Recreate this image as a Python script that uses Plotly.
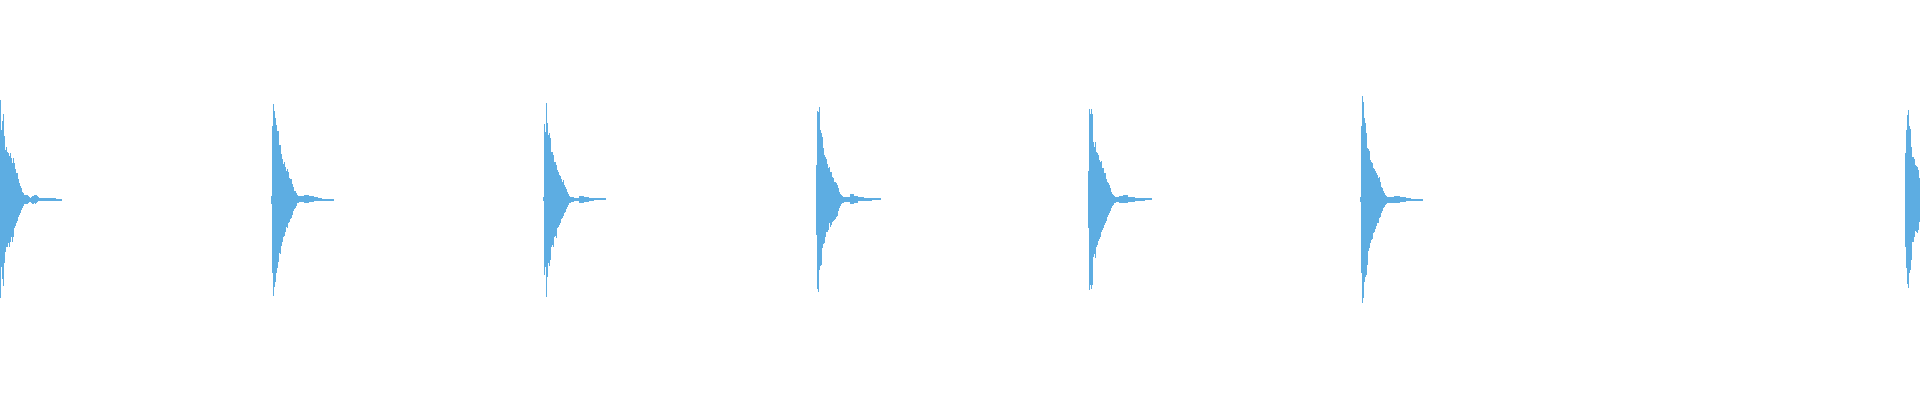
import plotly.graph_objects as go

# Onset positions (sample columns) of each drum hit
onsets = [0, 271, 543, 816, 1088, 1360, 1905]

# Per-column envelope (max / min) of each hit, amplitude units
hit1_max = [0.497, 0.347, 0.393, 0.427, 0.317, 0.247, 0.263, 0.238, 0.230, 0.217,
            0.233, 0.205, 0.180, 0.208, 0.180, 0.150, 0.130, 0.130, 0.102, 0.080,
            0.067, 0.055, 0.038, 0.030, 0.022, 0.022, 0.022, 0.022, 0.015, 0.013,
            0.005, 0.010, 0.017, 0.017, 0.020, 0.022, 0.020, 0.015, 0.013, 0.008,
            0.007, 0.007, 0.007, 0.007, 0.007, 0.007, 0.007, 0.007, 0.007, 0.007,
            0.007, 0.007, 0.007, 0.007, 0.007, 0.007, 0.002, 0.002, 0.002, 0.002,
            0.002, 0.002]
hit1_min = [-0.495, -0.340, -0.398, -0.432, -0.317, -0.262, -0.237, -0.237, -0.220, -0.237,
            -0.212, -0.187, -0.212, -0.187, -0.145, -0.132, -0.120, -0.107, -0.087, -0.078,
            -0.067, -0.053, -0.045, -0.033, -0.023, -0.023, -0.023, -0.023, -0.017, -0.013,
            -0.013, -0.020, -0.023, -0.023, -0.020, -0.023, -0.017, -0.013, -0.010, -0.010,
            -0.007, -0.007, -0.007, -0.007, -0.007, -0.007, -0.007, -0.007, -0.007, -0.007,
            -0.007, -0.007, -0.007, -0.007, -0.007, -0.007, -0.005, -0.005, -0.005, -0.005,
            -0.005, -0.005]

hit2_max = [0.017, 0.367, 0.477, 0.442, 0.405, 0.372, 0.342, 0.342, 0.272, 0.272,
            0.227, 0.202, 0.177, 0.187, 0.160, 0.143, 0.150, 0.138, 0.105, 0.102,
            0.100, 0.077, 0.063, 0.042, 0.040, 0.030, 0.022, 0.018, 0.015, 0.015,
            0.015, 0.015, 0.015, 0.020, 0.020, 0.020, 0.020, 0.020, 0.015, 0.015,
            0.015, 0.015, 0.015, 0.013, 0.013, 0.013, 0.013, 0.007, 0.007, 0.007,
            0.007, 0.003, 0.003, 0.003, 0.003, 0.003, 0.003, 0.003, 0.003, 0.003,
            0.003, 0.003, 0.003]
hit2_min = [-0.023, -0.367, -0.483, -0.440, -0.412, -0.370, -0.345, -0.312, -0.270, -0.273,
            -0.233, -0.212, -0.187, -0.182, -0.162, -0.137, -0.145, -0.120, -0.112, -0.100,
            -0.093, -0.077, -0.060, -0.048, -0.045, -0.033, -0.020, -0.020, -0.015, -0.015,
            -0.015, -0.015, -0.015, -0.020, -0.020, -0.020, -0.020, -0.020, -0.013, -0.013,
            -0.013, -0.013, -0.013, -0.010, -0.010, -0.010, -0.010, -0.007, -0.007, -0.007,
            -0.007, -0.005, -0.005, -0.005, -0.005, -0.005, -0.005, -0.005, -0.005, -0.005,
            -0.005, -0.005, -0.005]

hit3_max = [0.010, 0.377, 0.338, 0.483, 0.380, 0.322, 0.330, 0.305, 0.238, 0.238,
            0.222, 0.188, 0.188, 0.172, 0.147, 0.138, 0.122, 0.117, 0.100, 0.088,
            0.097, 0.072, 0.063, 0.050, 0.038, 0.027, 0.018, 0.013, 0.010, 0.010,
            0.010, 0.008, 0.008, 0.008, 0.008, 0.008, 0.017, 0.017, 0.017, 0.017,
            0.017, 0.010, 0.010, 0.010, 0.010, 0.010, 0.007, 0.007, 0.007, 0.007,
            0.007, 0.003, 0.003, 0.003, 0.003, 0.003, 0.003, 0.003, 0.003, 0.003,
            0.003, 0.003, 0.003]
hit3_min = [-0.010, -0.378, -0.337, -0.487, -0.387, -0.320, -0.333, -0.303, -0.237, -0.228,
            -0.237, -0.187, -0.183, -0.195, -0.145, -0.137, -0.128, -0.120, -0.100, -0.095,
            -0.083, -0.070, -0.062, -0.050, -0.040, -0.028, -0.020, -0.017, -0.013, -0.013,
            -0.013, -0.010, -0.010, -0.010, -0.010, -0.010, -0.017, -0.017, -0.017, -0.017,
            -0.017, -0.012, -0.012, -0.012, -0.012, -0.012, -0.007, -0.007, -0.007, -0.007,
            -0.007, -0.003, -0.003, -0.003, -0.003, -0.003, -0.003, -0.003, -0.003, -0.003,
            -0.003, -0.003, -0.003]

hit4_max = [0.172, 0.443, 0.438, 0.460, 0.347, 0.333, 0.313, 0.255, 0.222, 0.213,
            0.200, 0.177, 0.155, 0.163, 0.138, 0.138, 0.110, 0.105, 0.088, 0.088,
            0.080, 0.072, 0.055, 0.038, 0.027, 0.020, 0.017, 0.013, 0.010, 0.010,
            0.010, 0.010, 0.010, 0.010, 0.027, 0.027, 0.027, 0.027, 0.017, 0.017,
            0.017, 0.017, 0.010, 0.010, 0.010, 0.010, 0.010, 0.010, 0.007, 0.007,
            0.007, 0.007, 0.007, 0.007, 0.007, 0.007, 0.003, 0.003, 0.003, 0.003,
            0.003, 0.003, 0.003, 0.003, 0.003]
hit4_min = [-0.178, -0.450, -0.462, -0.353, -0.333, -0.328, -0.245, -0.223, -0.220, -0.187,
            -0.162, -0.162, -0.153, -0.120, -0.137, -0.128, -0.112, -0.108, -0.103, -0.100,
            -0.087, -0.083, -0.057, -0.045, -0.033, -0.023, -0.020, -0.017, -0.012, -0.012,
            -0.012, -0.012, -0.012, -0.012, -0.023, -0.023, -0.023, -0.023, -0.017, -0.017,
            -0.017, -0.017, -0.010, -0.010, -0.010, -0.010, -0.010, -0.010, -0.007, -0.007,
            -0.007, -0.007, -0.007, -0.007, -0.007, -0.007, -0.003, -0.003, -0.003, -0.003,
            -0.003, -0.003, -0.003, -0.003, -0.003]

hit5_max = [0.143, 0.452, 0.427, 0.452, 0.427, 0.288, 0.263, 0.288, 0.238, 0.230,
            0.222, 0.197, 0.188, 0.193, 0.155, 0.155, 0.133, 0.130, 0.100, 0.085,
            0.080, 0.072, 0.055, 0.038, 0.027, 0.020, 0.017, 0.013, 0.010, 0.010,
            0.010, 0.015, 0.015, 0.015, 0.015, 0.020, 0.020, 0.020, 0.020, 0.020,
            0.010, 0.010, 0.010, 0.010, 0.010, 0.010, 0.010, 0.007, 0.007, 0.007,
            0.007, 0.007, 0.007, 0.007, 0.007, 0.007, 0.007, 0.003, 0.003, 0.003,
            0.003, 0.003, 0.003, 0.003]
hit5_min = [-0.145, -0.453, -0.428, -0.450, -0.428, -0.287, -0.273, -0.295, -0.237, -0.228,
            -0.207, -0.200, -0.187, -0.162, -0.153, -0.145, -0.128, -0.120, -0.108, -0.090,
            -0.078, -0.070, -0.057, -0.045, -0.033, -0.028, -0.020, -0.017, -0.013, -0.013,
            -0.013, -0.017, -0.017, -0.017, -0.017, -0.020, -0.020, -0.020, -0.020, -0.020,
            -0.012, -0.012, -0.012, -0.012, -0.012, -0.012, -0.012, -0.007, -0.007, -0.007,
            -0.007, -0.007, -0.007, -0.007, -0.007, -0.007, -0.007, -0.003, -0.003, -0.003,
            -0.003, -0.003, -0.003, -0.003]

hit6_max = [0.013, 0.367, 0.517, 0.488, 0.408, 0.380, 0.330, 0.255, 0.252, 0.243,
            0.197, 0.188, 0.183, 0.155, 0.150, 0.143, 0.133, 0.122, 0.105, 0.113,
            0.088, 0.063, 0.055, 0.042, 0.030, 0.022, 0.017, 0.013, 0.013, 0.013,
            0.013, 0.013, 0.013, 0.013, 0.018, 0.018, 0.018, 0.018, 0.018, 0.018,
            0.013, 0.013, 0.013, 0.013, 0.013, 0.013, 0.007, 0.007, 0.007, 0.007,
            0.007, 0.003, 0.003, 0.003, 0.003, 0.003, 0.003, 0.003, 0.003, 0.003,
            0.003, 0.003, 0.003]
hit6_min = [-0.013, -0.367, -0.520, -0.495, -0.412, -0.387, -0.378, -0.328, -0.257, -0.245,
            -0.220, -0.203, -0.200, -0.170, -0.162, -0.148, -0.132, -0.120, -0.120, -0.095,
            -0.087, -0.070, -0.058, -0.045, -0.037, -0.028, -0.023, -0.017, -0.017, -0.017,
            -0.017, -0.017, -0.017, -0.017, -0.020, -0.020, -0.020, -0.020, -0.020, -0.020,
            -0.013, -0.013, -0.013, -0.013, -0.013, -0.013, -0.008, -0.008, -0.008, -0.008,
            -0.008, -0.005, -0.005, -0.005, -0.005, -0.005, -0.005, -0.005, -0.005, -0.005,
            -0.005, -0.005, -0.005]

hit7_max = [0.233, 0.347, 0.422, 0.447, 0.367, 0.350, 0.263, 0.213, 0.210, 0.200,
            0.172, 0.167, 0.160, 0.147, 0.105]
hit7_min = [-0.237, -0.345, -0.423, -0.445, -0.367, -0.353, -0.303, -0.212, -0.212, -0.187,
            -0.157, -0.162, -0.170, -0.153, -0.112]

hits_max = [hit1_max, hit2_max, hit3_max, hit4_max, hit5_max, hit6_max, hit7_max]
hits_min = [hit1_min, hit2_min, hit3_min, hit4_min, hit5_min, hit6_min, hit7_min]

BIN = 1
COLOR = "#5DADE2"

xs, bases, heights = [], [], []
for onset, mx, mn in zip(onsets, hits_max, hits_min):
    for i, (a, b) in enumerate(zip(mx, mn)):
        xs.append(onset + BIN * i + BIN / 2)
        bases.append(b)
        heights.append(a - b)

fig = go.Figure(go.Bar(
    x=xs, y=heights, base=bases, width=BIN,
    marker=dict(color=COLOR, line=dict(width=0)),
    hoverinfo="skip",
))

fig.update_layout(
    width=1920, height=400,
    margin=dict(l=0, r=0, t=0, b=0),
    paper_bgcolor="white", plot_bgcolor="white",
    showlegend=False, bargap=0,
    xaxis=dict(range=[0, 1920], visible=False, fixedrange=True),
    yaxis=dict(range=[-1.0035, 0.9965], visible=False, fixedrange=True),
)

fig.write_html(
    "out.html",
    config={"displayModeBar": False},
    post_script="document.body.style.margin='0';document.body.style.overflow='hidden';",
)
